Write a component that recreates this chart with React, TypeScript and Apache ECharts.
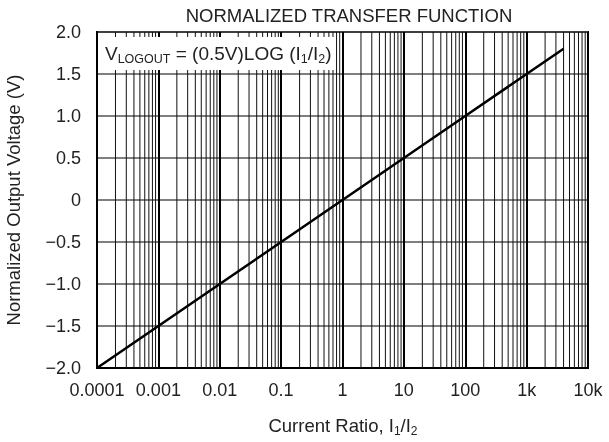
import React, { useEffect, useRef } from "react";
import * as echarts from "echarts";

const ratios = [0.0001, 0.001, 0.01, 0.1, 1, 10, 100, 1000, 4000];
const voltages = [-2.0, -1.5, -1.0, -0.5, 0.0, 0.5, 1.0, 1.5, 1.8];
const xTickLabels = ["0.0001", "0.001", "0.01", "0.1", "1", "10", "100", "1k", "10k"];
const yTickValues = [-2, -1.5, -1, -0.5, 0, 0.5, 1, 1.5, 2];
const yTickLabels = ["\u22122.0", "\u22121.5", "\u22121.0", "\u22120.5", "0", "0.5", "1.0", "1.5", "2.0"];
const decades = [-4, -3, -2, -1, 0, 1, 2, 3];
const minorMultipliers = [2, 3, 4, 5, 6, 7, 8, 9];

const FONT = "Liberation Sans, Arial, sans-serif";
const TXT = "#222";

export default function App() {
  const ref = useRef<HTMLDivElement>(null);
  useEffect(() => {
    if (!ref.current) return;
    const chart = echarts.init(ref.current, null, { renderer: "svg" });
    const minorData: number[][] = [];
    decades.forEach((d) => minorMultipliers.forEach((m) => minorData.push([m * Math.pow(10, d), 0])));
    const lineData = ratios.map((r, i) => [r, voltages[i]]);
    chart.setOption({
      animation: false,
      textStyle: { fontFamily: FONT },
      title: {
        text: "NORMALIZED TRANSFER FUNCTION",
        left: 344,
        top: 1,
        textAlign: "center",
        textStyle: { fontFamily: FONT, fontSize: 18.5, fontWeight: "normal", color: TXT },
      },
      grid: {
        left: 97,
        right: 21,
        top: 32,
        bottom: 74,
        containLabel: false,
        outerBoundsMode: "none",
        show: true,
        borderColor: "#000",
        borderWidth: 2,
        backgroundColor: "#fff",
      },
      xAxis: {
        type: "log",
        logBase: 10,
        min: 0.0001,
        max: 10000,
        interval: 1,
        axisLine: { show: true, onZero: false, lineStyle: { color: "#000", width: 2 } },
        axisTick: { show: false },
        splitLine: { show: true, lineStyle: { color: "#000", width: 2 } },
        axisLabel: {
          margin: 13,
          fontSize: 18,
          color: TXT,
          fontFamily: FONT,
          formatter: (v: number) => {
            const e = Math.round(Math.log10(v));
            return xTickLabels[e + 4] ?? "";
          },
        },
      },
      yAxis: {
        type: "value",
        min: -2,
        max: 2,
        interval: 0.5,
        axisLine: { show: true, lineStyle: { color: "#000", width: 2 } },
        axisTick: { show: false },
        splitLine: { show: true, lineStyle: { color: "#555", width: 1.5 } },
        axisLabel: {
          margin: 16,
          fontSize: 18,
          color: TXT,
          fontFamily: FONT,
          formatter: (v: number) => {
            const i = yTickValues.findIndex((t) => Math.abs(t - v) < 1e-6);
            return i >= 0 ? yTickLabels[i] : "";
          },
        },
        name: "Normalized Output Voltage (V)",
        nameLocation: "middle",
        nameGap: 74,
        nameTextStyle: { fontSize: 18.5, color: TXT, fontFamily: FONT },
      },
      graphic: [
        {
          type: "rect",
          z: 100,
          shape: { x: 99, y: 37, width: 237, height: 33 },
          style: { fill: "#fff" },
        },
        {
          type: "text",
          z: 101,
          x: 105,
          y: 53,
          style: {
            text: "{n|V}{s|LOGOUT}{n| = (0.5V)LOG (I}{s|1}{n|/I}{s|2}{n|)}",
            fontFamily: FONT,
            verticalAlign: "middle",
            rich: {
              n: { fontSize: 19, fontFamily: FONT, fill: TXT, lineHeight: 24 },
              s: { fontSize: 12.5, fontFamily: FONT, fill: TXT, lineHeight: 24, padding: [12, 0, 0, 0] },
            },
          },
        },
        {
          type: "text",
          x: 343,
          y: 425,
          style: {
            text: "{n|Current Ratio, I}{s|1}{n|/I}{s|2}",
            align: "center",
            verticalAlign: "middle",
            fontFamily: FONT,
            rich: {
              n: { fontSize: 18.5, fontFamily: FONT, fill: TXT, lineHeight: 24 },
              s: { fontSize: 12, fontFamily: FONT, fill: TXT, lineHeight: 24, padding: [12, 0, 0, 0] },
            },
          },
        },
      ],
      series: [
        {
          type: "custom",
          silent: true,
          z: 1,
          data: minorData,
          encode: { x: 0, y: 1 },
          renderItem: (params: any, api: any) => {
            const x = api.value(0);
            const top = api.coord([x, 2]);
            const bot = api.coord([x, -2]);
            return {
              type: "line",
              shape: { x1: top[0], y1: top[1], x2: bot[0], y2: bot[1] },
              style: { stroke: "#111", lineWidth: 1 },
            };
          },
        },
        {
          type: "line",
          z: 5,
          data: lineData,
          showSymbol: false,
          symbol: "none",
          lineStyle: { color: "#000", width: 2.5 },
        },
      ],
    });
    return () => chart.dispose();
  }, []);
  return <div ref={ref} style={{ position: "fixed", left: 0, top: 0, width: 609, height: 442 }} />;
}
